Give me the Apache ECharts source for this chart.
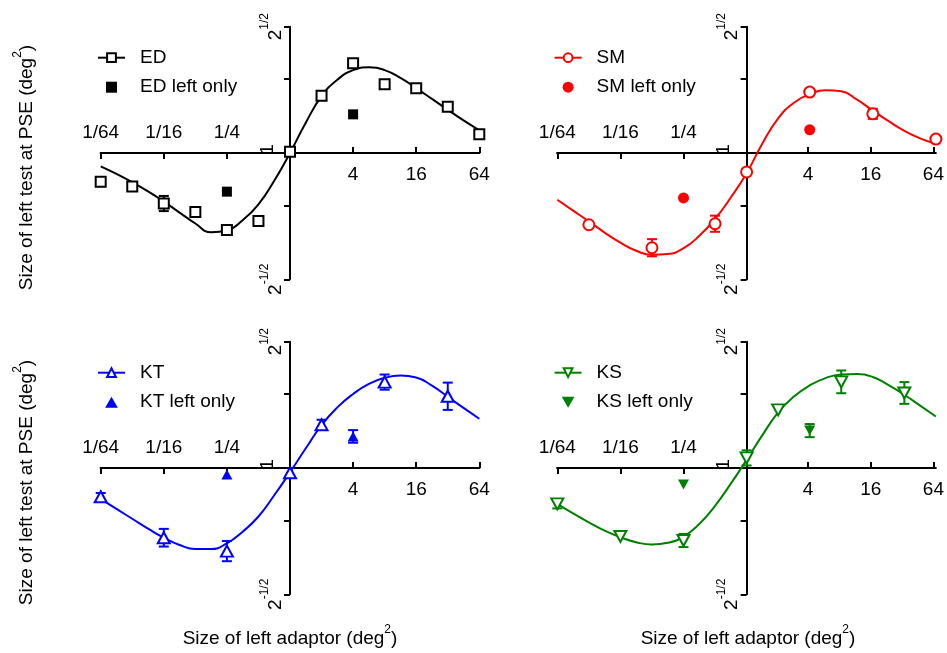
<!DOCTYPE html>
<html>
<head>
<meta charset="utf-8">
<script src="https://cdn.jsdelivr.net/npm/echarts@6/dist/echarts.min.js"></script>
<style>
  html, body { margin: 0; padding: 0; background: #fff; }
  #main { width: 947px; height: 653px; }
</style>
</head>
<body>
<div id="main"></div>
<script>
// Both axes are log2 scales: x = log2(adaptor size, deg^2), y = log2(PSE size ratio).
const xTickValues = [-6, -4, -2, 2, 4, 6];
const xTickLabels = ['1/64', '1/16', '1/4', '4', '16', '64'];
const yTickValues = [-0.5, 0, 0.5];
const yTickBase = ['2', '1', '2'];
const yTickExp = ['-1/2', '', '1/2'];
const yTickMarks = [-0.5, -0.208, 0.2935, 0.5];

// x positions of the fitted curves
const fitX = [-6, -5.5, -5, -4.5, -4, -3.5, -3, -2.5, -2, -1.5, -1, -0.5, 0,
              0.5, 1, 1.5, 2, 2.5, 3, 3.5, 4, 4.5, 5, 5.5, 6];

// ED
const edX = [-6, -5, -4, -3, -2, -1, 0, 1, 2, 3, 4, 5, 6];
const edY = [-0.114, -0.133, -0.2, -0.234, -0.305, -0.269, 0.005, 0.227, 0.355, 0.272, 0.256, 0.183, 0.074];
const edErr = [0, 0, 0.03, 0, 0, 0, 0, 0, 0, 0, 0, 0, 0];
const edLeftX = [-2, 2];
const edLeftY = [-0.153, 0.153];
const edLeftErr = [0, 0];
const edFitY = [-0.053, -0.083, -0.116, -0.152, -0.192, -0.236, -0.279, -0.314, -0.307, -0.266, -0.203, -0.110, 0,
                0.120, 0.225, 0.290, 0.328, 0.339, 0.328, 0.297, 0.257, 0.214, 0.171, 0.129, 0.090];

// SM
const smX = [-5, -3, -1, 0, 2, 4, 6];
const smY = [-0.284, -0.375, -0.28, -0.075, 0.241, 0.155, 0.055];
const smErr = [0, 0.034, 0.032, 0, 0, 0.02, 0];
const smLeftX = [-2, 2];
const smLeftY = [-0.178, 0.092];
const smLeftErr = [0, 0];
const smFitY = [-0.185, -0.228, -0.271, -0.315, -0.355, -0.387, -0.403, -0.400, -0.377, -0.328, -0.261, -0.176, -0.080,
                0.038, 0.137, 0.199, 0.233, 0.248, 0.244, 0.211, 0.168, 0.126, 0.088, 0.058, 0.036];

// KT
const ktX = [-6, -4, -2, 0, 1, 3, 5];
const ktY = [-0.114, -0.276, -0.329, -0.019, 0.171, 0.34, 0.284];
const ktErr = [0.015, 0.035, 0.04, 0, 0.02, 0.03, 0.054];
const ktLeftX = [-2, 2];
const ktLeftY = [-0.026, 0.125];
const ktLeftErr = [0, 0.025];
const ktFitY = [-0.122, -0.162, -0.201, -0.240, -0.276, -0.305, -0.321, -0.321, -0.298, -0.252, -0.192, -0.108, -0.017,
                0.078, 0.170, 0.240, 0.293, 0.333, 0.357, 0.366, 0.358, 0.326, 0.282, 0.238, 0.195];

// KS
const ksX = [-6, -4, -2, 0, 1, 3, 5];
const ksY = [-0.142, -0.271, -0.287, 0.04, 0.23, 0.341, 0.297];
const ksErr = [0.018, 0, 0.026, 0.03, 0, 0.045, 0.043];
const ksLeftX = [-2, 2];
const ksLeftY = [-0.065, 0.148];
const ksLeftErr = [0, 0.026];
const ksFitY = [-0.142, -0.180, -0.215, -0.248, -0.274, -0.294, -0.303, -0.296, -0.272, -0.222, -0.150, -0.062, 0.032,
                0.130, 0.220, 0.283, 0.327, 0.356, 0.370, 0.372, 0.360, 0.328, 0.290, 0.247, 0.204];

const FONT = '"Liberation Sans", Arial, Helvetica, sans-serif';
const SQUARE = 'path://M0,0L10,0L10,10L0,10Z';
const UP_TRIANGLE = 'path://M5,0L10,8.66L0,8.66Z';
const DOWN_TRIANGLE = 'path://M0,0L10,0L5,8.66Z';

const panels = [
  { name: 'ED', color: '#000000', x: edX, y: edY, err: edErr, lx: edLeftX, ly: edLeftY, lerr: edLeftErr, fit: edFitY,
    symbol: SQUARE, size: 10, legendSymbol: 'emptyRect', legendRotate: 0, leftSymbol: SQUARE, leftSize: 10 },
  { name: 'SM', color: '#ff0000', x: smX, y: smY, err: smErr, lx: smLeftX, ly: smLeftY, lerr: smLeftErr, fit: smFitY,
    symbol: 'circle', size: 11, legendSymbol: 'emptyCircle', legendRotate: 0, leftSymbol: 'circle', leftSize: 11 },
  { name: 'KT', color: '#0000ff', x: ktX, y: ktY, err: ktErr, lx: ktLeftX, ly: ktLeftY, lerr: ktLeftErr, fit: ktFitY,
    symbol: UP_TRIANGLE, size: [12, 11], legendSymbol: 'emptyTriangle', legendRotate: 0, leftSymbol: UP_TRIANGLE, leftSize: [11, 10] },
  { name: 'KS', color: '#008000', x: ksX, y: ksY, err: ksErr, lx: ksLeftX, ly: ksLeftY, lerr: ksLeftErr, fit: ksFitY,
    symbol: DOWN_TRIANGLE, size: [12, 11], legendSymbol: 'emptyTriangle', legendRotate: 180, leftSymbol: DOWN_TRIANGLE, leftSize: [11, 10] }
];

// plot rectangles of the four panels
const panelBoxes = [
  { left: 100.7, top: 26.7 },
  { left: 557.3, top: 26.7 },
  { left: 100.7, top: 341.7 },
  { left: 557.3, top: 341.7 }
];
const W = 378.6, H = 252.6;

const zip = (a, b) => a.map((v, i) => [v, b[i]]);
const zip3 = (a, b, c) => a.map((v, i) => [v, b[i], c[i]]).filter(d => d[2] > 0);

function xLabel(v) {
  const i = xTickValues.findIndex(t => Math.abs(t - v) < 1e-9);
  return i < 0 ? '' : xTickLabels[i];
}
function yLabel(v) {
  const i = yTickValues.findIndex(t => Math.abs(t - v) < 1e-9);
  if (i < 0) return '';
  if (!yTickExp[i]) return '{o|' + yTickBase[i] + '}';
  return '{b|' + yTickBase[i] + '}{s|' + yTickExp[i] + '}';
}

const axisLineStyle = { color: '#000', width: 2 };
const labelCommon = { color: '#000', fontSize: 19, fontFamily: FONT };
const hiddenAxis = { show: false, type: 'value' };

function errorBars(color) {
  return function (params, api) {
    const x = api.value(0), y = api.value(1), e = api.value(2);
    const top = api.coord([x, y + e]);
    const bot = api.coord([x, y - e]);
    const hw = 5;
    const style = { stroke: color, lineWidth: 2 };
    return {
      type: 'group',
      children: [
        { type: 'line', shape: { x1: top[0], y1: top[1], x2: bot[0], y2: bot[1] }, style },
        { type: 'line', shape: { x1: top[0] - hw, y1: top[1], x2: top[0] + hw, y2: top[1] }, style },
        { type: 'line', shape: { x1: bot[0] - hw, y1: bot[1], x2: bot[0] + hw, y2: bot[1] }, style }
      ]
    };
  };
}

const grid = [], xAxis = [], yAxis = [], series = [], legend = [];
const leftTicks = xTickValues.filter(v => v < 0);
const rightTicks = xTickValues.filter(v => v > 0);

panels.forEach((p, g) => {
  const L = panelBoxes[g].left, T = panelBoxes[g].top;
  const b = 4 * g;

  // b+0: data area; b+1: upper half (its bottom edge is the x axis);
  // b+2: lower half (its top edge is the x axis); b+3: right half (its left edge is the y axis)
  grid.push({ left: L, top: T, width: W, height: H });
  grid.push({ left: L, top: T, width: W, height: H / 2 });
  grid.push({ left: L, top: T + H / 2, width: W, height: H / 2 });
  grid.push({ left: L + W / 2, top: T, width: W / 2, height: H });

  xAxis.push(Object.assign({}, hiddenAxis, { gridIndex: b, min: -6, max: 6 }));
  xAxis.push({
    type: 'value', gridIndex: b + 1, min: -6, max: 6, position: 'bottom',
    splitLine: { show: false },
    axisLine: { show: true, onZero: false, lineStyle: axisLineStyle },
    axisTick: { show: true, inside: true, length: 6, lineStyle: axisLineStyle, customValues: rightTicks },
    axisLabel: Object.assign({ customValues: rightTicks, formatter: xLabel, margin: 12.5 }, labelCommon)
  });
  xAxis.push({
    type: 'value', gridIndex: b + 2, min: -6, max: 6, position: 'top',
    splitLine: { show: false },
    axisLine: { show: true, onZero: false, lineStyle: axisLineStyle },
    axisTick: { show: true, inside: true, length: 6, lineStyle: axisLineStyle, customValues: leftTicks },
    axisLabel: Object.assign({ customValues: leftTicks, formatter: xLabel, margin: 11 }, labelCommon)
  });
  xAxis.push(Object.assign({}, hiddenAxis, { gridIndex: b + 3, min: 0, max: 6 }));

  yAxis.push(Object.assign({}, hiddenAxis, { gridIndex: b, min: -0.5, max: 0.5 }));
  yAxis.push(Object.assign({}, hiddenAxis, { gridIndex: b + 1, min: 0, max: 0.5 }));
  yAxis.push(Object.assign({}, hiddenAxis, { gridIndex: b + 2, min: -0.5, max: 0 }));
  yAxis.push({
    type: 'value', gridIndex: b + 3, min: -0.5, max: 0.5, position: 'left',
    splitLine: { show: false },
    axisLine: { show: true, onZero: false, lineStyle: axisLineStyle },
    axisTick: { show: true, length: 6, lineStyle: axisLineStyle, customValues: yTickMarks },
    axisLabel: {
      customValues: yTickValues, formatter: yLabel, rotate: 90, margin: 5,
      color: '#000', fontFamily: FONT, fontSize: 19,
      rich: {
        b: { fontSize: 19, lineHeight: 26, verticalAlign: 'bottom', fontFamily: FONT, color: '#000' },
        s: { fontSize: 12, lineHeight: 12, verticalAlign: 'top', fontFamily: FONT, color: '#000' },
        o: { fontSize: 19, padding: [0, 0, 8, 7], fontFamily: FONT, color: '#000' }
      }
    }
  });

  const ax = { xAxisIndex: b, yAxisIndex: b };

  // fitted curve; it is the first series with this name, so it supplies the legend icon
  series.push(Object.assign({
    type: 'line', name: p.name,
    data: zip(fitX, p.fit), smooth: 0.5, showSymbol: false,
    symbol: p.legendSymbol, symbolRotate: p.legendRotate,
    lineStyle: { color: p.color, width: 2 }, itemStyle: { color: p.color },
    z: 2
  }, ax));
  // open markers
  series.push(Object.assign({
    type: 'scatter', name: p.name,
    data: zip(p.x, p.y), symbol: p.symbol, symbolSize: p.size,
    itemStyle: { color: '#fff', borderColor: p.color, borderWidth: 2, opacity: 1 },
    z: 4
  }, ax));
  // filled markers
  series.push(Object.assign({
    type: 'scatter', name: p.name + ' left only',
    data: zip(p.lx, p.ly), symbol: p.leftSymbol, symbolSize: p.leftSize,
    itemStyle: { color: p.color, opacity: 1 },
    z: 4
  }, ax));
  // error bars
  series.push(Object.assign({
    type: 'custom', name: p.name,
    data: zip3(p.x, p.y, p.err), renderItem: errorBars(p.color), z: 3
  }, ax));
  series.push(Object.assign({
    type: 'custom', name: p.name + ' left only',
    data: zip3(p.lx, p.ly, p.lerr), renderItem: errorBars(p.color), z: 3
  }, ax));

  legend.push({
    data: [p.name, { name: p.name + ' left only', icon: p.leftSymbol }],
    orient: 'vertical', padding: 0,
    left: L - 3.7, top: T + 21.5,
    itemWidth: 27, itemHeight: 11, itemGap: 10.5,
    selectedMode: false,
    textStyle: { color: '#000', fontSize: 19, fontFamily: FONT, padding: [0, 0, 0, 10] }
  });
});

const titleRich = {
  n: { fontSize: 19, lineHeight: 24, verticalAlign: 'bottom', fontFamily: FONT, color: '#000' },
  s: { fontSize: 12, lineHeight: 12, verticalAlign: 'top', fontFamily: FONT, color: '#000' }
};
const xTitle = '{n|Size of left adaptor (deg}{s|2}{n|)}';
const yTitle = '{n|Size of left test at PSE (deg}{s|2}{n|)}';

const graphic = [
  { type: 'text', x: 290, y: 636, style: { text: xTitle, rich: titleRich, align: 'center', verticalAlign: 'middle' } },
  { type: 'text', x: 748, y: 636, style: { text: xTitle, rich: titleRich, align: 'center', verticalAlign: 'middle' } },
  { type: 'text', x: 24, y: 167.5, rotation: Math.PI / 2, style: { text: yTitle, rich: titleRich, align: 'center', verticalAlign: 'middle' } },
  { type: 'text', x: 24, y: 482.5, rotation: Math.PI / 2, style: { text: yTitle, rich: titleRich, align: 'center', verticalAlign: 'middle' } }
];

const chart = echarts.init(document.getElementById('main'), null, { renderer: 'canvas' });
chart.setOption({
  animation: false,
  backgroundColor: '#fff',
  grid, xAxis, yAxis, series, legend, graphic
});
</script>
</body>
</html>
